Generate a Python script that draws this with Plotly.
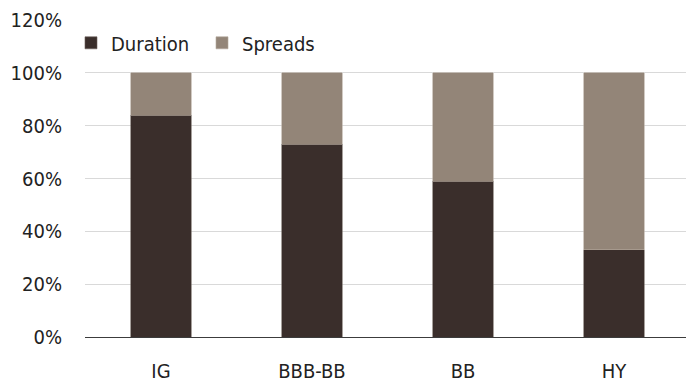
import plotly.graph_objects as go

categories = ["IG", "BBB-BB", "BB", "HY"]
duration = [84, 73, 59, 33]
spreads = [16, 27, 41, 67]
y_ticks = [0, 20, 40, 60, 80, 100, 120]
y_tick_labels = ["0%", "20%", "40%", "60%", "80%", "100%", "120%"]

DARK = "#3a2e2b"
LIGHT = "#938578"
FONT = "DejaVu Sans Condensed, Roboto, sans-serif"

fig = go.Figure()
fig.add_trace(go.Bar(
    x=categories, y=duration, name="Duration",
    marker=dict(color=DARK, line=dict(color="#6b605a", width=0.6)),
    width=0.4,
    legend="legend",
))
fig.add_trace(go.Bar(
    x=categories, y=spreads, name="Spreads",
    marker=dict(color=LIGHT, line=dict(color="#b3a79b", width=0.6)),
    width=0.4,
    legend="legend2",
))

legend_style = dict(
    orientation="h",
    xanchor="left",
    y=0.928, yanchor="middle",
    bgcolor="rgba(0,0,0,0)",
    font=dict(family=FONT, size=20, color="#222222"),
    itemwidth=30,
)

fig.update_layout(
    width=686, height=383,
    barmode="stack",
    margin=dict(l=85, r=0, t=20, b=46),
    paper_bgcolor="white",
    plot_bgcolor="white",
    font=dict(family=FONT, size=20, color="#222222"),
    showlegend=True,
    legend=dict(x=-0.0233, **legend_style),
    legend2=dict(x=0.1947, **legend_style),
    xaxis=dict(
        range=[-0.503, 3.477],
        showgrid=False,
        showline=False,
        ticks="",
        ticklabelstandoff=20,
        tickfont=dict(family=FONT, size=20, color="#222222"),
    ),
    yaxis=dict(
        range=[0, 120],
        tickvals=y_ticks,
        ticktext=y_tick_labels,
        showgrid=True,
        gridcolor="#d9d9d9",
        gridwidth=1.3,
        zeroline=True,
        zerolinecolor="#3c3c3c",
        zerolinewidth=1.3,
        ticks="",
        ticklabelstandoff=22,
        tickfont=dict(family=FONT, size=20, color="#222222"),
    ),
)

fig.write_html("out.html")
